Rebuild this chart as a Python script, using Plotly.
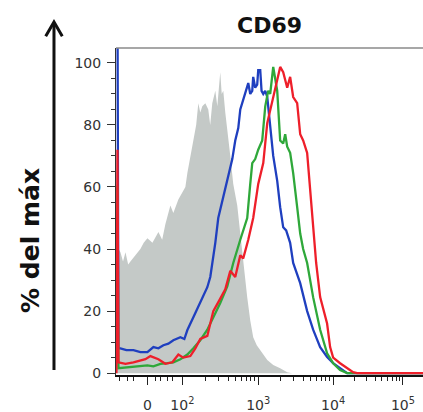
import plotly.graph_objects as go
import math

# x values are in display (biexponential) decade units; y in % of max
gray_x = [1.081, 1.11, 1.135, 1.17, 1.203, 1.24, 1.27, 1.338, 1.405, 1.45,
          1.5, 1.568, 1.61, 1.649, 1.70, 1.743, 1.811, 1.851, 1.919, 1.97,
          2.014, 2.041, 2.081, 2.122, 2.16, 2.189, 2.216, 2.243, 2.284, 2.324,
          2.35, 2.378, 2.419, 2.446, 2.466, 2.486, 2.506, 2.527, 2.554, 2.581,
          2.622, 2.662, 2.716, 2.757, 2.797, 2.851, 2.892, 2.932, 2.98, 3.027,
          3.122, 3.203, 3.297, 3.392, 3.459]
gray_y = [38, 40, 39, 36, 39, 35, 36, 38, 40, 42,
          43.5, 42, 44, 45.5, 43, 48, 54, 51.6, 56, 58,
          60, 64.5, 70, 75, 80, 87, 84, 86, 87, 85,
          80, 87, 91, 86, 93, 97, 90, 91, 84, 79,
          70, 61, 54, 45, 35.5, 24.5, 17, 11.6, 9, 7.4,
          4.2, 2.6, 1.6, 0.3, 0]

blue_x = [1.081, 1.095, 1.108, 1.135, 1.216, 1.311, 1.405, 1.5, 1.581, 1.649,
          1.716, 1.784, 1.851, 1.946, 2.0, 2.041, 2.122, 2.216, 2.311, 2.351,
          2.392, 2.419, 2.459, 2.527, 2.595, 2.649, 2.689, 2.73, 2.757, 2.797,
          2.824, 2.865, 2.892, 2.919, 2.932, 2.959, 2.986, 3.0, 3.027, 3.045,
          3.068, 3.095, 3.122, 3.162, 3.203, 3.257, 3.297, 3.338, 3.378, 3.432,
          3.473, 3.568, 3.662, 3.743, 3.838, 3.932, 4.014, 4.108, 4.203, 5.23]
blue_y = [120, 120, 8, 8, 7.4, 7.4, 6.8, 6.8, 8.4, 8,
          9, 9.5, 10.6, 11.6, 11, 13.9, 18, 22.6, 27.7, 31,
          37.4, 42, 50, 57, 63, 69, 75, 79, 85, 88,
          90, 93.5, 90, 91, 95.5, 92, 93, 97.7, 97.7, 91,
          90, 91, 89, 80.6, 70, 62, 53.5, 47, 46, 42,
          35.5, 29, 20, 14, 8.4, 5.2, 3.2, 1.6, 0, 0]

green_x = [1.081, 1.095, 1.108, 1.203, 1.311, 1.405, 1.5, 1.581, 1.676, 1.77,
           1.851, 1.946, 2.041, 2.122, 2.216, 2.311, 2.392, 2.486, 2.581, 2.662,
           2.757, 2.851, 2.892, 2.919, 2.959, 3.0, 3.054, 3.095, 3.135, 3.162,
           3.203, 3.23, 3.257, 3.297, 3.338, 3.365, 3.392, 3.432, 3.473, 3.527,
           3.568, 3.608, 3.662, 3.743, 3.838, 3.932, 4.014, 4.108, 4.203, 5.23]
green_y = [60, 60, 1.6, 1.8, 2, 2.3, 2.5, 2.2, 3, 3.2,
           3.5, 4.5, 6, 8, 10.6, 14, 18, 22.6, 28, 35.5,
           43, 50, 61, 67.7, 69, 72, 75, 86, 91, 90,
           98.7, 95, 91, 75, 74, 77, 73, 71, 64.5, 53.5,
           45, 40, 35.5, 24.5, 14, 6.4, 3.2, 1, 0, 0]

red_x = [1.081, 1.085, 1.095, 1.108, 1.203, 1.311, 1.405, 1.473, 1.541, 1.649,
         1.743, 1.838, 1.919, 1.986, 2.081, 2.149, 2.216, 2.311, 2.351, 2.392,
         2.486, 2.554, 2.622, 2.689, 2.757, 2.797, 2.865, 2.932, 3.0, 3.068,
         3.122, 3.162, 3.203, 3.257, 3.297, 3.338, 3.392, 3.432, 3.473, 3.527,
         3.568, 3.608, 3.662, 3.703, 3.743, 3.784, 3.838, 3.932, 3.973, 4.014,
         4.108, 4.203, 4.284, 4.338, 5.23]
red_y = [0, 72, 72, 3.5, 3, 3.5, 4, 4.5, 5.5, 4.5,
         3, 3.5, 6, 5, 5.5, 8, 11, 12, 16, 20,
         24, 27, 33, 31, 38, 37, 43, 50, 61, 67.7,
         80.6, 85, 89, 94.5, 98.7, 97, 92, 95.5, 89, 87,
         77, 75, 71, 59, 45, 35.5, 24.5, 16, 8.4, 5,
         3.2, 1.6, 0.3, 0, 0]

x_tickvals = [1.5, 1.973, 3.0, 4.014, 4.959]
x_ticktext = ["0", "10<sup>2</sup>", "10<sup>3</sup>", "10<sup>4</sup>", "10<sup>5</sup>"]
y_tickvals = [0, 20, 40, 60, 80, 100]

FONT = "DejaVu Sans"

# minor ticks: linear region near zero + log minors within decades
minor = [1.122, 1.23, 1.311, 1.608, 1.676, 1.77, 1.838]
decs = x_tickvals[1:]
for a, b in zip(decs[:-1], decs[1:]):
    for k in range(2, 10):
        minor.append(a + (b - a) * math.log10(k))

fig = go.Figure()
fig.add_trace(go.Scatter(x=gray_x, y=gray_y, mode="lines", fill="tozeroy",
                         fillcolor="#c4c9c7", line=dict(width=0, color="#c4c9c7"),
                         showlegend=False, hoverinfo="skip"))
for xs, ys, col in [(blue_x, blue_y, "#1f3fbf"), (green_x, green_y, "#2fa83a"),
                    (red_x, red_y, "#ee1f2a")]:
    fig.add_trace(go.Scatter(x=xs, y=ys, mode="lines",
                             line=dict(width=2.3, color=col), showlegend=False))

fig.update_layout(
    width=423, height=412,
    margin=dict(l=116, r=0, t=48, b=37),
    plot_bgcolor="white", paper_bgcolor="white",
    font=dict(family=FONT, color="#333"),
    xaxis=dict(range=[1.075, 5.23], tickvals=x_tickvals, ticktext=x_ticktext,
               ticks="outside", ticklen=8, tickwidth=1.3, tickcolor="#222",
               showline=True, linecolor="#111", linewidth=2,
               showgrid=False, zeroline=False, ticklabelstandoff=8,
               tickfont=dict(family=FONT, size=14, color="#333"),
               minor=dict(tickvals=minor, ticks="outside", ticklen=4,
                          tickcolor="#222", tickwidth=1, showgrid=False)),
    yaxis=dict(range=[-0.6, 104.8], tickvals=y_tickvals,
               ticks="outside", ticklen=8, tickwidth=1.3, tickcolor="#333",
               showline=True, linecolor="#333", linewidth=1,
               showgrid=False, zeroline=False, ticklabelstandoff=3,
               tickfont=dict(family=FONT, size=14, color="#333"),
               minor=dict(dtick=5, tick0=0, ticks="outside", ticklen=4,
                          tickcolor="#333", tickwidth=1, showgrid=False)),
    shapes=[
        dict(type="line", xref="paper", yref="paper", x0=0, x1=1, y0=1, y1=1,
             line=dict(color="#8a8a8a", width=1.5)),
        # big vertical arrow beside the y-axis title
        dict(type="line", xref="paper", yref="paper", x0=-0.202, x1=-0.202,
             y0=0.0153, y1=1.075, line=dict(color="#111", width=3)),
        dict(type="path", xref="paper", yref="paper",
             path="M -0.229,1.036 L -0.202,1.0795 L -0.175,1.036",
             line=dict(color="#111", width=3)),
    ],
    annotations=[
        dict(text="<b>CD69</b>", xref="paper", yref="paper", x=0.5, y=1.07,
             xanchor="center", yanchor="middle", showarrow=False,
             font=dict(family=FONT, size=22, color="#111")),
        dict(text="<b>% del máx</b>", xref="paper", yref="paper", x=-0.277, y=0.413,
             xanchor="center", yanchor="middle", showarrow=False, textangle=-90,
             font=dict(family=FONT, size=25, color="#111")),
    ],
)

fig.write_html("out.html")
